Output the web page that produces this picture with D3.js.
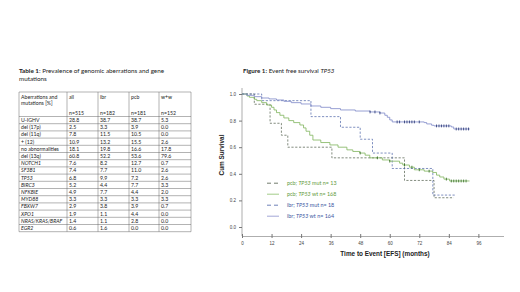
<!DOCTYPE html>
<html>
<head>
<meta charset="utf-8">
<title>Table 1 and Figure 1</title>
<script src="https://d3js.org/d3.v7.min.js"></script>
<style>
  body { margin: 0; background: #fff; }
  svg text { font-family: Lato, "Open Sans", sans-serif; }
  .ax text { font-family: "Liberation Sans", Arial, sans-serif; }
</style>
</head>
<body>
<svg id="page" width="520" height="292"></svg>
<script>
// ---- table data ----
var colHeads = ["all", "ibr", "pcb", "w+w"];
var colNs = ["n=515", "n=182", "n=181", "n=152"];
var rowLabels = ["U-IGHV", "del (17p)", "del (11q)", "+ (12)", "no abnormalities", "del (13q)",
  "NOTCH1", "SF3B1", "TP53", "BIRC3", "NFKBIE", "MYD88", "FBXW7", "XPO1", "NRAS/KRAS/BRAF", "EGR2"];
var italicRows = ["NOTCH1", "SF3B1", "TP53", "BIRC3", "NFKBIE", "MYD88", "FBXW7", "XPO1", "NRAS/KRAS/BRAF", "EGR2"];
var allVals = [28.8, 2.5, 7.8, 10.9, 18.1, 60.8, 7.6, 7.4, 6.8, 5.2, 4.9, 3.3, 2.9, 1.9, 1.4, 0.6];
var ibrVals = [38.7, 3.3, 11.5, 13.2, 19.8, 52.2, 8.2, 7.7, 9.9, 4.4, 7.7, 3.3, 3.8, 1.1, 1.1, 1.6];
var pcbVals = [38.7, 3.9, 10.5, 15.5, 16.6, 53.6, 12.7, 11.0, 7.2, 7.7, 4.4, 3.3, 3.9, 4.4, 2.8, 0.0];
var wwVals = [5.3, 0.0, 0.0, 2.6, 17.8, 79.6, 0.7, 2.6, 2.6, 3.3, 2.0, 3.3, 0.7, 0.0, 0.0, 0.0];

// ---- survival curves: [month, cum survival] ----
var ibrWt = [[0,1],[2,0.99],[5,0.98],[8,0.97],[11,0.963],[14,0.955],[17,0.945],[20,0.935],[24,0.925],
  [28,0.91],[32,0.9],[36,0.89],[40,0.88],[46,0.872],[52,0.865],[56,0.857],[58,0.84],[59,0.825],
  [60,0.805],[61,0.79],[74,0.785],[75,0.775],[77,0.765],[78,0.76],[85,0.752],[86,0.737],[92.5,0.737]];
var pcbWt = [[0,1],[2,0.985],[3,0.975],[5,0.96],[6,0.95],[8,0.935],[10,0.917],[12,0.9],[13,0.88],
  [14,0.86],[15.4,0.84],[17,0.82],[19,0.8],[21,0.785],[23.5,0.767],[25,0.745],[26,0.72],[27.5,0.69],
  [28.8,0.654],[32,0.635],[35.7,0.617],[39,0.6],[42.6,0.58],[45,0.568],[47.8,0.556],[50,0.54],
  [51.9,0.52],[57,0.504],[60,0.495],[64,0.48],[65.3,0.466],[68,0.45],[70,0.43],[74,0.42],
  [77.4,0.41],[79,0.39],[80.3,0.376],[82,0.36],[84.3,0.346],[92.4,0.346]];
var pcbMut = [[0,1],[5,0.923],[11.4,0.78],[16,0.69],[18.6,0.6],[36.5,0.52],[66,0.35],[78,0.22],[86,0.22]];
var ibrMut = [[0,1],[8,0.95],[28,0.83],[40,0.75],[48,0.66],[53,0.556],[61,0.44],[77.5,0.24],[87,0.24]];
var ibrWtCens = [52,54,56,63,64,66,67,68,69,70,72,79,80,81,82,83,84,87,88,89,90,91,92];
var pcbWtCens = [48,55,60,66,69,72,76,83,85,86,87,88,89,90,91];

var xTicks = [0, 12, 24, 36, 48, 60, 72, 84, 96];
var yTicks = [0, 0.2, 0.4, 0.6, 0.8, 1.0];

var legendItems = [
  {grp: "pcb; ", gene: "TP53", rest: " mut  n= 13", col: "#5f9a3c", line: "#4d5a48", dash: "4,3"},
  {grp: "pcb; ", gene: "TP53", rest: " wt n= 168", col: "#5f9a3c", line: "#8cc06a", dash: null},
  {grp: "ibr; ", gene: "TP53", rest: " mut n= 18", col: "#3a56a0", line: "#4a62a6", dash: "4,3"},
  {grp: "ibr; ", gene: "TP53", rest: " wt n= 164", col: "#3a56a0", line: "#8a90cc", dash: null}
];

var svg = d3.select("#page");

// ---------- table ----------
var t = svg.append("g");
var tTitle = t.append("text").attr("x", 19).attr("y", 73).attr("font-size", 6.3).attr("fill", "#222");
tTitle.append("tspan").attr("font-weight", "bold").text("Table 1");
tTitle.append("tspan").text(": Prevalence of genomic aberrations and gene");
t.append("text").attr("x", 19).attr("y", 81).attr("font-size", 6.3).attr("fill", "#222").text("mutations");

var colX = [19, 67, 98, 129, 159, 191];
var tTop = 92, headH = 24.5, rowH = 7.2;
var rowY = d3.scaleLinear().domain([0, rowLabels.length]).range([tTop + headH, tTop + headH + rowH * rowLabels.length]);
var fs = 5.2;

// grid lines
var hLines = [tTop].concat(d3.range(rowLabels.length + 1).map(function(i) { return rowY(i); }));
t.selectAll(".hl").data(hLines).enter().append("line")
  .attr("x1", colX[0]).attr("x2", colX[5]).attr("y1", function(d) { return d; }).attr("y2", function(d) { return d; })
  .attr("stroke", "#666").attr("stroke-width", 0.5);
t.selectAll(".vl").data(colX).enter().append("line")
  .attr("x1", function(d) { return d; }).attr("x2", function(d) { return d; })
  .attr("y1", tTop).attr("y2", rowY(rowLabels.length))
  .attr("stroke", "#666").attr("stroke-width", 0.5);

// header
t.append("text").attr("x", colX[0] + 2).attr("y", tTop + 7).attr("font-size", fs).attr("fill", "#222").text("Aberrations and");
t.append("text").attr("x", colX[0] + 2).attr("y", tTop + 13).attr("font-size", fs).attr("fill", "#222").text("mutations [%]");
colHeads.forEach(function(h, i) {
  t.append("text").attr("x", colX[i + 1] + 2).attr("y", tTop + 7).attr("font-size", fs).attr("fill", "#222").text(h);
  t.append("text").attr("x", colX[i + 1] + 2).attr("y", tTop + 22.5).attr("font-size", fs).attr("fill", "#222").text(colNs[i]);
});

// body
var cols = [allVals, ibrVals, pcbVals, wwVals];
rowLabels.forEach(function(lab, r) {
  var yy = rowY(r) + 5.5;
  t.append("text").attr("x", colX[0] + 2).attr("y", yy).attr("font-size", fs).attr("fill", "#222")
    .attr("font-style", italicRows.indexOf(lab) >= 0 ? "italic" : "normal").text(lab);
  cols.forEach(function(vals, c) {
    t.append("text").attr("x", colX[c + 1] + 2).attr("y", yy).attr("font-size", fs).attr("fill", "#222")
      .text(vals[r].toFixed(1));
  });
});

// ---------- figure ----------
var fTitle = svg.append("text").attr("x", 243).attr("y", 73).attr("font-size", 6.2).attr("fill", "#222");
fTitle.append("tspan").attr("font-weight", "bold").text("Figure 1:");
fTitle.append("tspan").text(" Event free survival ");
fTitle.append("tspan").attr("font-style", "italic").text("TP53");

var x = d3.scaleLinear().domain([0, 106.2]).range([242, 503.5]);
var y = d3.scaleLinear().domain([0, 1]).range([227, 94]);
var axisY0 = 236;

var ax = svg.append("g").attr("class", "ax");
var xa = ax.append("g").attr("transform", "translate(0," + axisY0 + ")")
  .call(d3.axisBottom(x).tickValues(xTicks).tickSize(2).tickSizeOuter(0).tickFormat(d3.format("d")));
xa.select(".domain").attr("stroke", "#777").attr("stroke-width", 0.6);
xa.selectAll(".tick line").attr("stroke", "#777").attr("y1", -2).attr("y2", 2);
xa.selectAll(".tick text").attr("font-size", 4.5).attr("fill", "#444").attr("dy", "0.9em");

var ya = ax.append("g").attr("transform", "translate(242,0)")
  .call(d3.axisLeft(y).tickValues(yTicks).tickSize(3).tickSizeOuter(0).tickFormat(d3.format(".1f")));
ya.select(".domain").remove();
ya.append("line").attr("y1", 88).attr("y2", axisY0).attr("stroke", "#777").attr("stroke-width", 0.6);
ya.selectAll(".tick line").attr("stroke", "#777");
ya.selectAll(".tick text").attr("font-size", 4.5).attr("fill", "#444").attr("x", -6);

ax.append("text").attr("x", 385).attr("y", 256).attr("text-anchor", "middle")
  .attr("font-size", 6.4).attr("font-weight", "bold").attr("fill", "#222").text("Time to Event [EFS] (months)");
ax.append("text").attr("transform", "translate(224,155) rotate(-90)").attr("text-anchor", "middle")
  .attr("font-size", 6.4).attr("font-weight", "bold").attr("fill", "#222").text("Cum Survival");

var line = d3.line().x(function(d) { return x(d[0]); }).y(function(d) { return y(d[1]); }).curve(d3.curveStepAfter);

function stepAt(data, m) {
  var v = data[0][1];
  data.forEach(function(d) { if (d[0] <= m) v = d[1]; });
  return v;
}

var curves = [
  {data: pcbMut, col: "#4d5a48", dash: "2.2,1.6", w: 0.7},
  {data: ibrMut, col: "#4a62a6", dash: "2.2,1.6", w: 0.7},
  {data: pcbWt, col: "#7fb45c", dash: null, w: 0.8},
  {data: ibrWt, col: "#7e88c8", dash: null, w: 0.8}
];
curves.forEach(function(c) {
  svg.append("path").datum(c.data).attr("d", line).attr("fill", "none")
    .attr("stroke", c.col).attr("stroke-width", c.w).attr("stroke-dasharray", c.dash);
});

// censor marks
function cens(arr, data, col) {
  svg.selectAll(null).data(arr).enter().append("line")
    .attr("x1", function(d) { return x(d); }).attr("x2", function(d) { return x(d); })
    .attr("y1", function(d) { return y(stepAt(data, d)) - 1.4; })
    .attr("y2", function(d) { return y(stepAt(data, d)) + 1.4; })
    .attr("stroke", col).attr("stroke-width", 0.8);
}
cens(ibrWtCens, ibrWt, "#1f2f6e");
cens(pcbWtCens, pcbWt, "#2f6a1e");

// legend
var lg = svg.append("g");
legendItems.forEach(function(it, i) {
  var ly = 185 + i * 11;
  lg.append("line").attr("x1", 267).attr("x2", 279).attr("y1", ly - 1.8).attr("y2", ly - 1.8)
    .attr("stroke", it.line).attr("stroke-width", 0.8).attr("stroke-dasharray", it.dash);
  var tx = lg.append("text").attr("x", 287).attr("y", ly).attr("font-size", 5.4).attr("fill", it.col);
  tx.append("tspan").text(it.grp);
  tx.append("tspan").attr("font-style", "italic").text(it.gene);
  tx.append("tspan").text(it.rest);
});
</script>
</body>
</html>
